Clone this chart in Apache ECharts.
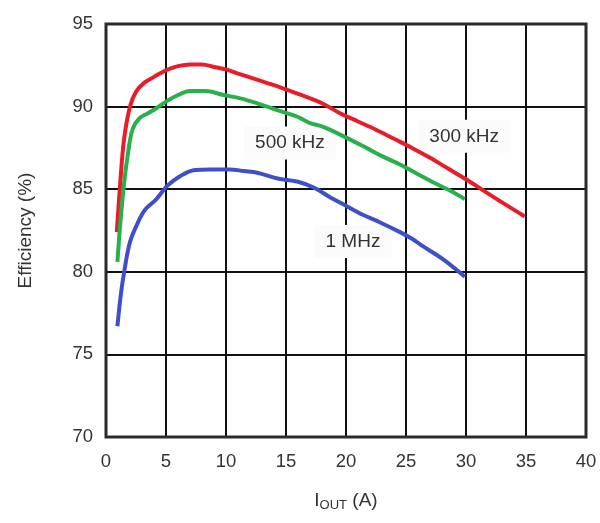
<!DOCTYPE html>
<html>
<head>
<meta charset="utf-8">
<script src="https://cdn.jsdelivr.net/npm/echarts@6/dist/echarts.min.js"></script>
<style>html,body{margin:0;padding:0;background:#fff}#c{width:600px;height:523px}</style>
</head>
<body>
<div id="c"></div>
<script>
var xTicks = [0, 5, 10, 15, 20, 25, 30, 35, 40];
var yTicks = [70, 75, 80, 85, 90, 95];

var x300 = [0.9, 1.2, 1.5, 2.0, 2.5, 3.2, 4.0, 5.0, 6.0, 7.0, 8.0, 9.0, 10.0, 11.0, 12.5, 14.0, 15.5, 17.0, 18.0, 19.5, 21.0, 22.5, 24.0, 25.5, 27.0, 28.5, 30.0, 31.5, 33.0, 34.9];
var y300 = [82.4, 85.5, 88.0, 90.0, 90.9, 91.45, 91.8, 92.2, 92.45, 92.55, 92.55, 92.4, 92.25, 92.0, 91.65, 91.3, 90.9, 90.5, 90.2, 89.6, 89.1, 88.6, 88.05, 87.5, 86.9, 86.25, 85.6, 84.9, 84.2, 83.35];

var x500 = [0.95, 1.2, 1.5, 1.8, 2.2, 2.8, 3.5, 4.2, 5.0, 6.0, 7.0, 8.3, 9.8, 11.2, 12.6, 14.2, 15.9, 17.0, 18.0, 19.8, 21.7, 23.0, 24.5, 26.0, 27.3, 28.7, 29.9];
var y500 = [80.6, 83.0, 85.3, 87.0, 88.6, 89.3, 89.6, 89.9, 90.3, 90.7, 90.95, 90.95, 90.7, 90.5, 90.2, 89.8, 89.4, 89.0, 88.8, 88.2, 87.5, 87.0, 86.5, 85.9, 85.4, 84.9, 84.4];

var x1M = [0.95, 1.2, 1.45, 2.0, 2.8, 3.3, 4.2, 5.1, 6.2, 7.3, 8.7, 10.3, 11.5, 12.6, 14.3, 16.0, 17.3, 18.7, 20.0, 21.4, 22.8, 24.5, 25.5, 26.4, 28.1, 29.9];
var y1M = [76.7, 78.4, 79.7, 81.8, 83.2, 83.8, 84.4, 85.2, 85.8, 86.15, 86.2, 86.2, 86.1, 86.0, 85.65, 85.45, 85.1, 84.5, 84.0, 83.45, 83.0, 82.4, 82.0, 81.55, 80.75, 79.7];

var seriesNames = ['300 kHz', '500 kHz', '1 MHz'];
var labelPos = [[29.85, 88.2], [15.33, 87.8], [20.58, 81.84]];

function pairs(xs, ys) { return xs.map(function (x, i) { return [x, ys[i]]; }); }

var FONT = 'Liberation Sans';
var chart = echarts.init(document.getElementById('c'), null, {renderer: 'canvas'});

function mkSeries(name, data, color, lp) {
  return {
    name: name, type: 'line', data: data, showSymbol: false, symbol: 'none',
    smooth: 0.35, z: 5,
    lineStyle: {color: color, width: 4},
    markPoint: {
      symbol: 'rect', symbolSize: 1, itemStyle: {color: 'rgba(0,0,0,0)'},
      silent: true, z: 3,
      data: [{coord: lp, value: name}],
      label: {
        show: true, position: 'inside', formatter: name,
        color: '#333', fontFamily: FONT, fontSize: 19,
        backgroundColor: '#fbfbfb', padding: [7, 11]
      }
    }
  };
}

chart.setOption({
  animation: false,
  backgroundColor: '#fff',
  grid: {left: 106, right: 14, top: 24, bottom: 86, show: true, borderColor: '#2a2a2a', borderWidth: 3, backgroundColor: 'transparent', z: 10},
  xAxis: {
    type: 'value', min: xTicks[0], max: xTicks[xTicks.length - 1], interval: 5,
    axisLine: {show: false}, axisTick: {show: false},
    splitLine: {show: true, lineStyle: {color: '#111', width: 2}},
    axisLabel: {color: '#333', fontFamily: FONT, fontSize: 18.5, margin: 15},
    name: '{a|I}{b|OUT}{a| (A)}', nameLocation: 'middle', nameGap: 53,
    nameTextStyle: {
      color: '#333', fontFamily: FONT, fontSize: 19,
      rich: {
        a: {fontFamily: FONT, fontSize: 19, color: '#333', lineHeight: 22},
        b: {fontFamily: FONT, fontSize: 13, color: '#333', padding: [9, 0, 0, 0], lineHeight: 22}
      }
    }
  },
  yAxis: {
    type: 'value', min: yTicks[0], max: yTicks[yTicks.length - 1], interval: 5,
    axisLine: {show: false}, axisTick: {show: false},
    splitLine: {show: true, lineStyle: {color: '#111', width: 2}},
    axisLabel: {color: '#333', fontFamily: FONT, fontSize: 18.5, margin: 13},
    name: 'Efficiency (%)', nameLocation: 'middle', nameGap: 71,
    nameTextStyle: {color: '#333', fontFamily: FONT, fontSize: 19}
  },
  series: [
    mkSeries(seriesNames[0], pairs(x300, y300), '#e61e2b', labelPos[0]),
    mkSeries(seriesNames[1], pairs(x500, y500), '#27b04b', labelPos[1]),
    mkSeries(seriesNames[2], pairs(x1M, y1M), '#3f4fc9', labelPos[2])
  ]
});
</script>
</body>
</html>
